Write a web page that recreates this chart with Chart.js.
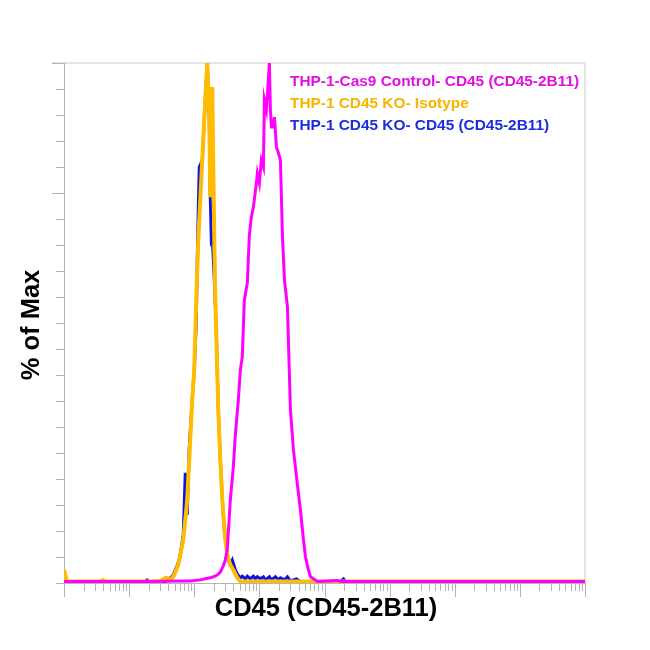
<!DOCTYPE html>
<html>
<head>
<meta charset="utf-8">
<script src="https://cdn.jsdelivr.net/npm/chart.js@4.4.1/dist/chart.umd.min.js"></script>
<style>
  html, body { margin: 0; padding: 0; background: #fff; }
  #wrap { width: 650px; height: 650px; }
</style>
</head>
<body>
<div id="wrap"><canvas id="histChart" width="650" height="650"></canvas></div>
<script>
// x values are in decades (log10 of fluorescence), y values in % of max
const seriesNames = [
  'THP-1-Cas9 Control- CD45 (CD45-2B11)',
  'THP-1 CD45 KO- Isotype',
  'THP-1 CD45 KO- CD45 (CD45-2B11)'
];
const seriesColors = ['#ff00ff', '#ffbb00', '#0a14e6'];
const textColors = ['#e010e0', '#f5b400', '#1a2ee0'];

const ctrlX = [0, 1.323, 1.785, 1.938, 2.092, 2.169, 2.246, 2.323, 2.369, 2.4, 2.446, 2.477, 2.508, 2.523,
  2.554, 2.6, 2.631, 2.677, 2.708, 2.738, 2.769, 2.815, 2.846, 2.877, 2.908, 2.954, 2.969, 3.0, 3.031,
  3.062, 3.077, 3.108, 3.154, 3.169, 3.185, 3.215, 3.231, 3.262, 3.292, 3.323, 3.354, 3.385, 3.431,
  3.477, 3.523, 3.585, 3.631, 3.677, 3.708, 3.754, 3.785, 3.892, 4.2, 4.25, 8];
const ctrlY = [0.3, 0.3, 0.4, 0.4, 0.6, 0.8, 1.0, 1.3, 1.7, 2.1, 3.3, 4.4, 6.7, 9.6,
  16, 22.3, 28.5, 35.2, 41, 43.5, 54.4, 57.7, 66.9, 70.4, 72.3, 76.9, 78.8, 76.9, 81.3,
  80, 92.9, 91, 100, 91, 87.7, 87.7, 89.6, 83.8, 82.7, 81.3, 66.9, 58.3, 53.1,
  33.3, 25.6, 18.8, 14, 8.3, 5, 2.5, 1.2, 0.3, 0.5, 0.3, 0.3];

const isoX = [0, 0.046, 0.554, 0.6, 0.646, 1.323, 1.477, 1.569, 1.631, 1.692, 1.754, 1.785, 1.831, 1.862,
  1.892, 1.938, 1.969, 2.0, 2.031, 2.062, 2.092, 2.123, 2.169, 2.2, 2.231, 2.246, 2.277, 2.292, 2.308,
  2.323, 2.369, 2.4, 2.431, 2.477, 2.508, 2.554, 2.6, 2.662, 2.708, 8];
const isoY = [2.5, 0.3, 0.3, 0.6, 0.3, 0.3, 0.4, 1.0, 0.6, 1.5, 3.5, 5.4, 8.3, 12.1,
  16, 27.5, 35.2, 41, 54.4, 66, 73.7, 81.3, 92.9, 100, 90, 74.2, 95.4, 80, 66,
  55, 33.3, 23.7, 16, 8.3, 5.4, 3.5, 2.5, 1.0, 0.3, 0.3];

const koX = [0, 1.246, 1.277, 1.308, 1.554, 1.631, 1.677, 1.723, 1.769, 1.8, 1.831, 1.862, 1.892, 1.923,
  1.969, 2.0, 2.031, 2.046, 2.062, 2.077, 2.123, 2.169, 2.2, 2.231, 2.246, 2.262, 2.277, 2.308, 2.338, 2.369,
  2.4, 2.431, 2.462, 2.492, 2.523, 2.554, 2.585, 2.6, 2.631, 2.662, 2.708, 2.738, 2.785, 2.815, 2.862,
  2.908, 2.938, 2.969, 3.015, 3.062, 3.092, 3.154, 3.185, 3.246, 3.292, 3.323, 3.385, 3.431, 3.477,
  3.569, 3.631, 4.246, 4.292, 4.323, 8];
const koY = [0.3, 0.3, 0.6, 0.3, 0.3, 1.0, 1.5, 2.9, 4.4, 6.7, 9.2, 21.2, 13.1, 26,
  35.2, 41, 50, 62, 72, 80, 81.3, 92.9, 100, 89, 74.2, 66, 66.5, 58.3, 48.7, 33.3,
  23.7, 16, 10.2, 7.3, 4.4, 3.5, 4.4, 3.8, 2.5, 1.7, 1.0, 1.3, 0.8, 1.3, 0.8,
  1.3, 0.8, 1.2, 0.8, 1.2, 0.6, 1.2, 0.6, 1.2, 0.6, 1.0, 0.6, 1.2, 0.4,
  0.8, 0.3, 0.3, 0.8, 0.3, 0.3];

const yTicks = [0, 5, 10, 15, 20, 25, 30, 35, 40, 45, 50, 55, 60, 65, 70, 75, 80, 85, 90, 95, 100];
const decades = [0, 1, 2, 3, 4, 5, 6, 7, 8];

function toPoints(xs, ys) {
  return xs.map((x, i) => ({ x: x, y: ys[i] }));
}

// draws axis frame, ticks, titles and the text legend
const decorPlugin = {
  id: 'decor',
  beforeDatasetsDraw(chart) {
    const { ctx, chartArea: a, scales: { x, y } } = chart;
    ctx.save();
    // light frame top and right
    ctx.strokeStyle = '#e4e4e4';
    ctx.lineWidth = 2;
    ctx.beginPath();
    ctx.moveTo(52, a.top);
    ctx.lineTo(a.right, a.top);
    ctx.lineTo(a.right, a.bottom);
    ctx.stroke();

    ctx.strokeStyle = '#b4b4b4';
    ctx.lineWidth = 1;
    // left axis
    ctx.beginPath();
    ctx.moveTo(a.left + 0.5, a.top);
    ctx.lineTo(a.left + 0.5, a.bottom);
    ctx.stroke();
    yTicks.forEach(v => {
      const py = Math.round(y.getPixelForValue(v)) + 0.5;
      const len = (v === 75 || v === 100) ? 12 : 8;
      ctx.beginPath();
      ctx.moveTo(a.left - len, py);
      ctx.lineTo(a.left, py);
      ctx.stroke();
    });
    // bottom axis
    ctx.beginPath();
    ctx.moveTo(a.left, a.bottom + 0.5);
    ctx.lineTo(a.right, a.bottom + 0.5);
    ctx.stroke();
    decades.forEach(d => {
      const px = Math.round(x.getPixelForValue(d)) + 0.5;
      ctx.beginPath();
      ctx.moveTo(px, a.bottom);
      ctx.lineTo(px, a.bottom + 14);
      ctx.stroke();
      if (d < 8) {
        for (let m = 2; m <= 9; m++) {
          const mx = Math.round(x.getPixelForValue(d + Math.log10(m))) + 0.5;
          ctx.beginPath();
          ctx.moveTo(mx, a.bottom);
          ctx.lineTo(mx, a.bottom + 8);
          ctx.stroke();
        }
      }
    });
    ctx.restore();
  },
  afterDraw(chart) {
    const { ctx, chartArea: a } = chart;
    ctx.save();
    ctx.fillStyle = '#000';
    ctx.font = 'bold 25.5px "Liberation Sans", Arial, sans-serif';
    ctx.textAlign = 'center';
    ctx.textBaseline = 'middle';
    ctx.fillText('CD45 (CD45-2B11)', 326, 609);
    ctx.translate(32, 325);
    ctx.rotate(-Math.PI / 2);
    ctx.fillText('% of Max', 0, 0);
    ctx.restore();

    ctx.save();
    ctx.font = 'bold 15.4px "Liberation Sans", Arial, sans-serif';
    ctx.textAlign = 'left';
    ctx.textBaseline = 'alphabetic';
    seriesNames.forEach((name, i) => {
      ctx.fillStyle = textColors[i];
      ctx.fillText(name, 290, 86 + i * 22);
    });
    ctx.restore();
  }
};

const ctx = document.getElementById('histChart').getContext('2d');
const histChart = new Chart(ctx, {
  type: 'scatter',
  data: {
    datasets: [
      { label: seriesNames[0], data: toPoints(ctrlX, ctrlY), borderColor: seriesColors[0], borderWidth: 3 },
      { label: seriesNames[1], data: toPoints(isoX, isoY), borderColor: seriesColors[1], borderWidth: 4 },
      { label: seriesNames[2], data: toPoints(koX, koY), borderColor: seriesColors[2], borderWidth: 3 }
    ].map(ds => Object.assign(ds, { showLine: true, pointRadius: 0, tension: 0, fill: false }))
  },
  options: {
    responsive: false,
    animation: false,
    layout: { padding: { left: 64, right: 65, top: 63, bottom: 67 } },
    plugins: {
      legend: { display: false },
      tooltip: { enabled: false }
    },
    scales: {
      x: { type: 'linear', min: 0, max: 8, display: false },
      y: { type: 'linear', min: 0, max: 100, display: false }
    }
  },
  plugins: [decorPlugin]
});
</script>
</body>
</html>
